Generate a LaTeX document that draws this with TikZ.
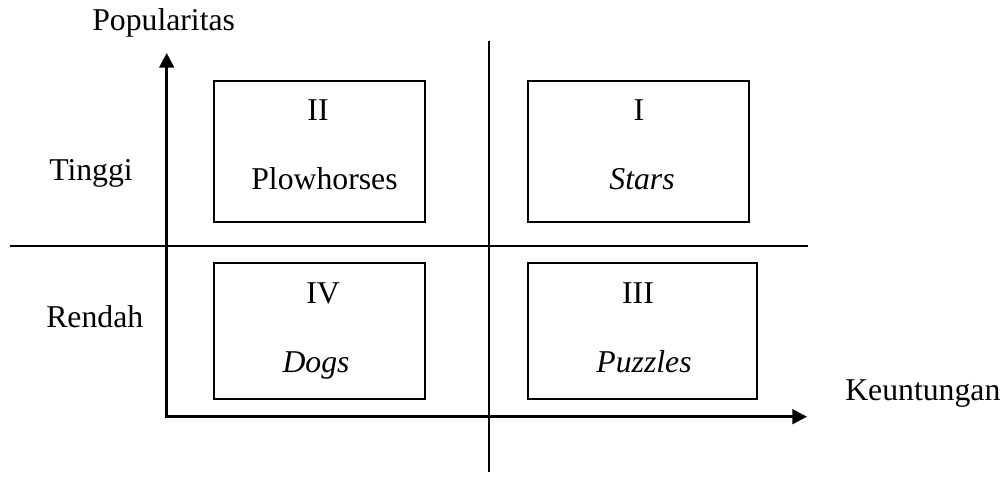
\documentclass[tikz,border=0pt]{standalone}
\usepackage{fontspec}
\setmainfont{Liberation Serif}
\usetikzlibrary{arrows.meta}
\begin{document}
\begin{tikzpicture}[x=0.75pt,y=-0.75pt,
  every node/.style={font=\fontsize{23.8}{28}\selectfont, inner sep=0pt},
  quad/.style={draw, line width=1.5pt, inner sep=0pt},
  axis/.style={line width=2pt, line cap=rect, -{Triangle[length=11pt,width=11pt]}},
  divider/.style={line width=1.3pt},
  txt/.style={anchor=base},
  side/.style={anchor=base west}]
\useasboundingbox (0,0) rectangle (1005,476);

% quadrant dividers
\coordinate (vt) at (489,41);
\coordinate (vb) at (489,472);
\coordinate (hl) at (10,246);
\coordinate (hr) at (808,246);
\draw[divider] (vt) -- (vb);
\draw[divider] (hl) -- (hr);

% axes
\coordinate (o) at (166.7,416.7);
\coordinate (ytip) at (166.7,53);
\coordinate (xtip) at (807,416.7);
\draw[axis] (o) -- (ytip);
\draw[axis] (o) -- (xtip);

% quadrant boxes
\node[quad, minimum width=158.25pt, minimum height=106.2pt] (q2) at (319.5,151.5) {};
\node[quad, minimum width=165.75pt, minimum height=106.2pt] (q1) at (638.5,151.5) {};
\node[quad, minimum width=158.25pt, minimum height=102.2pt] (q4) at (319.5,330.85) {};
\node[quad, minimum width=171.75pt, minimum height=102.2pt] (q3) at (642.5,330.85) {};

% box texts
\node[txt] (n2) at (318,120.7) {II};
\node[txt] (t2) at (324.5,189) {Plowhorses};
\node[txt] (n1) at (639,120.7) {I};
\node[txt] (t1) at (642,189) {\textit{Stars}};
\node[txt] (n4) at (323,303) {IV};
\node[txt] (t4) at (316,372) {\textit{Dogs}};
\node[txt] (n3) at (638,303) {III};
\node[txt] (t3) at (644,372) {\textit{Puzzles}};

% axis and row labels
\node[side] (ylab) at (92,30) {Popularitas};
\node[side] (hi) at (49,180) {Tinggi};
\node[side] (lo) at (46,327) {Rendah};
\node[side] (xlab) at (845,400) {Keuntungan};
\end{tikzpicture}
\end{document}
